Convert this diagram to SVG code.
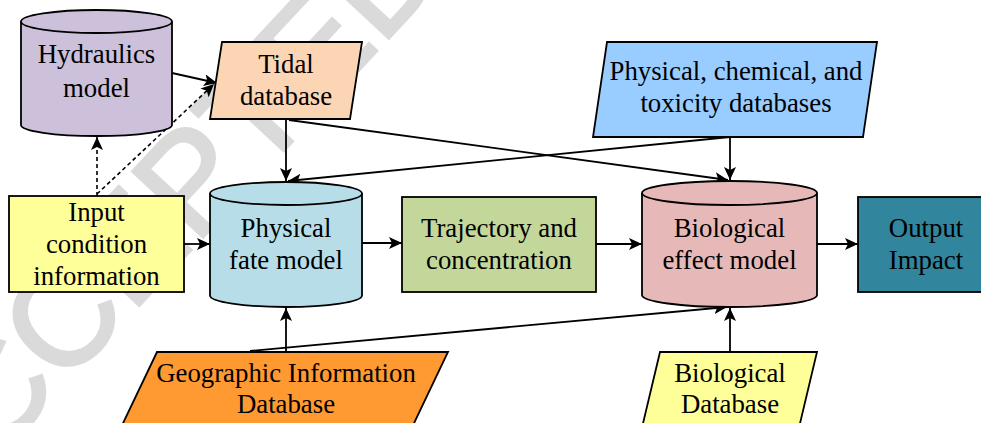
<svg xmlns="http://www.w3.org/2000/svg" width="981" height="423" viewBox="0 0 981 423">
<defs>
<marker id="ah" markerUnits="userSpaceOnUse" markerWidth="14" markerHeight="12" refX="13" refY="6" orient="auto">
<path d="M0,0 L13,6 L0,12 L3,6 Z" fill="#000"/>
</marker>
<style>
.sh{stroke:#000;stroke-width:1.8}
.c{fill:none;stroke:#000;stroke-width:1.8;marker-end:url(#ah)}
.d{fill:none;stroke:#000;stroke-width:1.6;stroke-dasharray:4 3;marker-end:url(#ah)}
.lab{font-family:'Liberation Serif','Times New Roman',Times,'DejaVu Serif',serif;font-size:26.8px;fill:#000;text-anchor:middle}
</style>
</defs>
<rect width="981" height="423" fill="#fff"/>
<text font-family="'Liberation Sans', Arial, sans-serif" font-size="140" fill="#dadada" stroke="#dadada" stroke-width="3" transform="translate(-70,530) rotate(-47)">ACCEPTED</text>
<g id="connectors">
<path class="c" d="M172,73 L217,83"/>
<path class="d" d="M97,196 L97,137"/>
<path class="d" d="M97,194 L214,84"/>
<path class="c" d="M286,119 L286,181"/>
<path class="c" d="M289,120 L728,180"/>
<path class="c" d="M730,137 L288,181"/>
<path class="c" d="M730,137 L730,180"/>
<path class="c" d="M184,244 L210,244"/>
<path class="c" d="M362,243 L402,243"/>
<path class="c" d="M596,244 L642,244"/>
<path class="c" d="M817,244 L858,244"/>
<path class="c" d="M286,352 L286,308"/>
<path class="c" d="M250,351 L727,307"/>
<path class="c" d="M730,352 L730,308"/>
</g>
<g class="lab">
<g id="hydraulics">
<path class="sh" fill="#CCC0DA" d="M21,21.5 A75.5,11.5 0 0 1 172,21.5 V125 A75.5,11 0 0 1 21,125 Z"/>
<path class="sh" fill="none" d="M21,21.5 A75.5,11.5 0 0 0 172,21.5"/>
<text x="96.5" y="63">Hydraulics</text>
<text x="96.5" y="97">model</text>
</g>
<g id="tidal">
<polygon class="sh" fill="#FCD5B5" points="222,42 362,42 350,119 210,119"/>
<text x="286" y="73">Tidal</text>
<text x="286" y="105">database</text>
</g>
<g id="physchem">
<polygon class="sh" fill="#99CCFF" points="607,42 877,42 863,137 593,137"/>
<text x="736" y="80">Physical, chemical, and</text>
<text x="736" y="112">toxicity databases</text>
</g>
<g id="input">
<rect class="sh" fill="#FFFF99" x="9" y="196" width="175" height="96"/>
<text x="96.5" y="221">Input</text>
<text x="96.5" y="253">condition</text>
<text x="96.5" y="285">information</text>
</g>
<g id="physfate">
<path class="sh" fill="#B7DEE8" d="M210,193.5 A76,11.5 0 0 1 362,193.5 V295.5 A76,11.5 0 0 1 210,295.5 Z"/>
<path class="sh" fill="none" d="M210,193.5 A76,11.5 0 0 0 362,193.5"/>
<text x="286" y="237">Physical</text>
<text x="286" y="269">fate model</text>
</g>
<g id="trajectory">
<rect class="sh" fill="#C4D79B" x="402" y="197" width="194" height="95"/>
<text x="499" y="237">Trajectory and</text>
<text x="499" y="269">concentration</text>
</g>
<g id="bioeffect">
<path class="sh" fill="#E6B9B8" d="M642,193 A87.5,12 0 0 1 817,193 V295 A87.5,12 0 0 1 642,295 Z"/>
<path class="sh" fill="none" d="M642,193 A87.5,12 0 0 0 817,193"/>
<text x="729.5" y="237">Biological</text>
<text x="729.5" y="269">effect model</text>
</g>
<g id="output">
<rect class="sh" fill="#31859C" x="858" y="197" width="132" height="95"/>
<text x="926" y="237">Output</text>
<text x="926" y="269">Impact</text>
</g>
<g id="geographic">
<polygon class="sh" fill="#FF9A33" points="157,352 448,352 406,440 115,440"/>
<text x="286" y="382">Geographic Information</text>
<text x="286" y="413">Database</text>
</g>
<g id="biodb">
<polygon class="sh" fill="#FFFF99" points="660,352 817,352 797,436 640,436"/>
<text x="730" y="382">Biological</text>
<text x="730" y="413">Database</text>
</g>
</g>
</svg>
